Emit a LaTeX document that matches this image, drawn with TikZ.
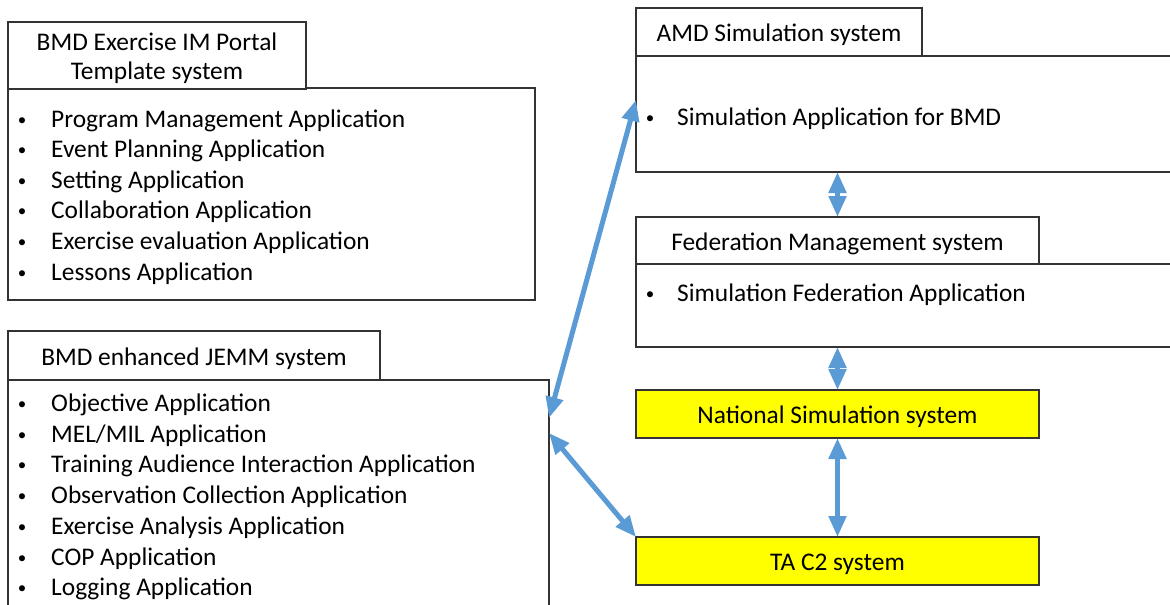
\documentclass[tikz,border=0pt]{standalone}
\usepackage{fontspec}
\setmainfont{Carlito}
\usetikzlibrary{arrows.meta,calc}
\definecolor{linkblue}{HTML}{5B9BD5}
\definecolor{sysyellow}{HTML}{FFFF00}
\begin{document}
\begin{tikzpicture}[x=1pt,y=-1pt,
  box/.style={draw=black!80, line width=1.2pt, inner sep=0pt, outer sep=0pt, anchor=north west},
  ttl/.style={inner sep=0pt, align=center, font=\fontsize{25.4}{30}\selectfont},
  item/.style={anchor=base west, inner sep=0pt, font=\fontsize{25.4}{30}\selectfont},
  bul/.style={anchor=base, inner sep=0pt, font=\fontsize{17}{20}\selectfont},
  link/.style={draw=linkblue, line width=5pt,
    {Triangle[width=17pt,length=21pt]}-{Triangle[width=17pt,length=21pt]}}
]
\clip (0,0) rectangle (1170,605);
\fill[white] (0,0) rectangle (1170,605);

% left top group
\node[box, minimum width=527pt, minimum height=212pt] (pb) at (8,88) {};
\node[box, fill=white, minimum width=298pt, minimum height=67pt] (pt) at (8,22) {};
\node[ttl] (ptl) at ([yshift=-3pt]pt.center) {BMD Exercise IM Portal\\[-1pt]Template system};
\foreach \t [count=\i, evaluate=\i as \yy using 127+30.6*(\i-1)] in
  {Program Management Application, Event Planning Application, Setting Application,
   Collaboration Application, Exercise evaluation Application, Lessons Application}{
  \node[bul] (pbul\i) at (22,\yy-2) {•};
  \node[item] (ptx\i) at (51,\yy) {\t};
}

% left bottom group
\node[box, minimum width=541pt, minimum height=300pt] (jb) at (8,380) {};
\node[box, fill=white, minimum width=372pt, minimum height=49pt] (jt) at (8,331) {};
\node[ttl] (jtl) at ([yshift=-3pt]jt.center) {BMD enhanced JEMM system};
\foreach \t [count=\i, evaluate=\i as \yy using 411.5+30.7*(\i-1)] in
  {Objective Application, MEL/MIL Application, Training Audience Interaction Application,
   Observation Collection Application, Exercise Analysis Application, COP Application,
   Logging Application}{
  \node[bul] (jbul\i) at (22,\yy-2) {•};
  \node[item] (jtx\i) at (51,\yy) {\t};
}

% AMD
\node[box, minimum width=600pt, minimum height=116pt] (ab) at (636,56) {};
\node[box, fill=white, minimum width=286pt, minimum height=48pt] (at) at (636,8) {};
\node[ttl] (atl) at ([yshift=-3pt]at.center) {AMD Simulation system};
\node[bul] (abul) at (650,123) {•};
\node[item] (atx) at (677,125) {Simulation Application for BMD};

% Federation
\node[box, minimum width=600pt, minimum height=83pt] (fb) at (636,264) {};
\node[box, fill=white, minimum width=403pt, minimum height=47pt] (ft) at (636,217) {};
\node[ttl] (ftl) at ([yshift=-3pt]ft.center) {Federation Management system};
\node[bul] (fbul) at (650,299) {•};
\node[item] (ftx) at (677,301) {Simulation Federation Application};

% National / TA C2
\node[box, fill=sysyellow, minimum width=403pt, minimum height=48pt] (ns) at (636,390) {};
\node[ttl] (nsl) at ([yshift=-3pt]ns.center) {National Simulation system};
\node[box, fill=sysyellow, minimum width=403pt, minimum height=48pt] (ta) at (636,537) {};
\node[ttl] (tal) at ([yshift=-3pt]ta.center) {TA C2 system};

% connectors
\coordinate (j1) at ([yshift=-38pt]jb.north east);
\coordinate (j2) at ([yshift=-53pt]jb.north east);
\coordinate (a1) at ([yshift=-44pt]ab.north west);
\draw[link] (j1) -- (a1);
\draw[link] (j2) -- (ta.north west);
\draw[link] (ab.south -| ft.north) -- (ft.north);
\draw[link] (fb.south -| ns.north) -- (ns.north);
\draw[link] (ns.south) -- (ta.north);
\end{tikzpicture}
\end{document}
